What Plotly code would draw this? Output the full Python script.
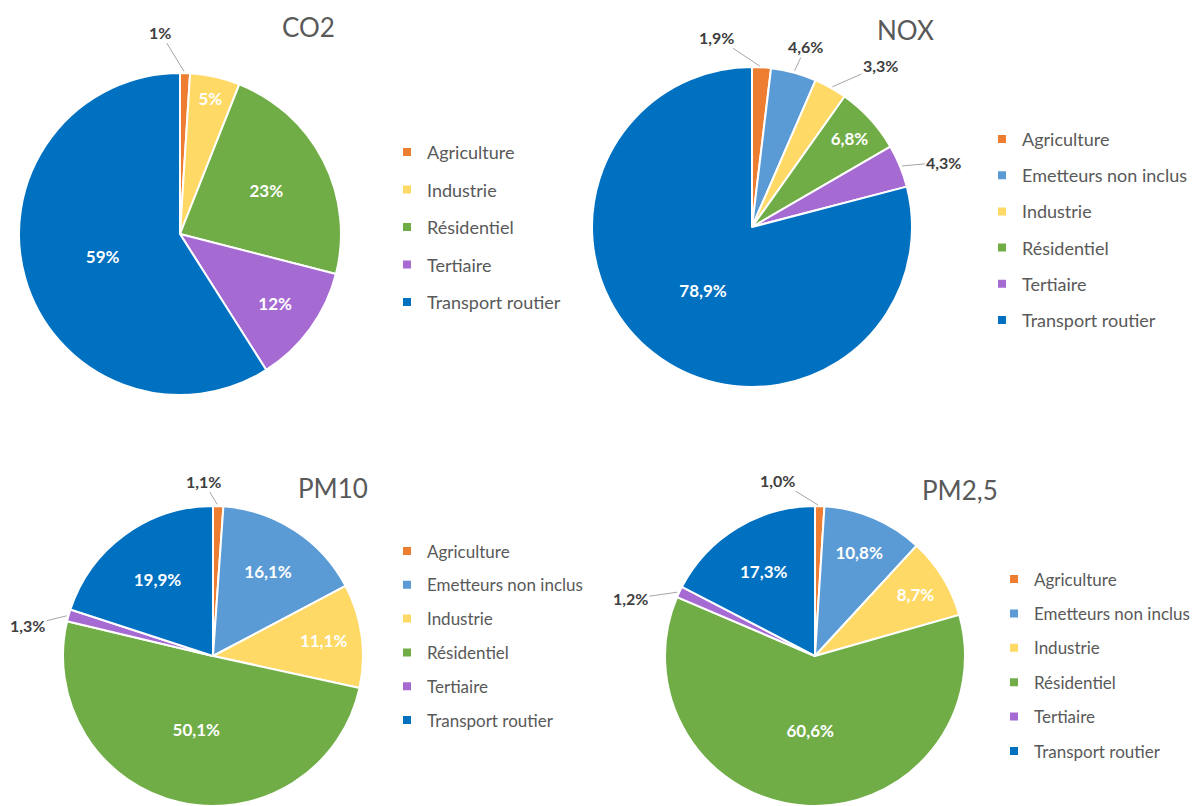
import math
import plotly.graph_objects as go

# The page body has an 8px margin: the figure is drawn from (8, 8) of the window.
OFF = 8
VW, VH = 1199, 806
W, H = VW - OFF, VH - OFF
FONT = "Lato"

# ---------------- data ----------------
cats_co2 = ["Agriculture", "Industrie", "Résidentiel", "Tertiaire", "Transport routier"]
vals_co2 = [1, 5, 23, 12, 59]

cats_six = ["Agriculture", "Emetteurs non inclus", "Industrie", "Résidentiel", "Tertiaire", "Transport routier"]
vals_nox = [1.9, 4.6, 3.3, 6.8, 4.3, 78.9]
vals_pm10 = [1.1, 16.1, 11.1, 50.1, 1.3, 19.9]
vals_pm25 = [1.0, 10.8, 8.7, 60.6, 1.2, 17.3]

titles = ["CO2", "NOX", "PM10", "PM2,5"]

colors = {
    "Agriculture": "#ED7D31",
    "Emetteurs non inclus": "#5B9BD5",
    "Industrie": "#FFD966",
    "Résidentiel": "#70AD47",
    "Tertiaire": "#A66BD3",
    "Transport routier": "#0070C0",
}

# ---------------- layout config (window pixel coordinates) ----------------
charts = [
    dict(title=titles[0], cats=cats_co2, vals=vals_co2, dec=0,
         box=(19, 73, 341, 395), title_xy=(308, 27),
         outside={"Agriculture": (-25, -41)},
         leg=dict(tx=427, row1=152, step=37.5, fs=18)),
    dict(title=titles[1], cats=cats_six, vals=vals_nox, dec=1,
         box=(592, 67, 912, 387), title_xy=(905, 30),
         outside={"Agriculture": (-45, -30), "Emetteurs non inclus": (12, -26),
                  "Industrie": (50, -22), "Tertiaire": (44, -4)},
         leg=dict(tx=1022, row1=139, step=36.2, fs=18)),
    dict(title=titles[2], cats=cats_six, vals=vals_pm10, dec=1,
         box=(63, 506, 363, 806), title_xy=(333, 488),
         outside={"Agriculture": (-15, -25), "Tertiaire": (-41, 10)},
         leg=dict(tx=427, row1=551, step=33.8, fs=17)),
    dict(title=titles[3], cats=cats_six, vals=vals_pm25, dec=1,
         box=(665, 506, 965, 806), title_xy=(960, 490),
         outside={"Agriculture": (-42, -26), "Tertiaire": (-49, 7)},
         leg=dict(tx=1034, row1=579, step=34.4, fs=17)),
]


def fmt(v, dec):
    return (f"{v:.{dec}f}").replace(".", ",") + "%"


def px_x(x):
    return (x - OFF) / W


def px_y(y):
    return 1 - (y - OFF) / H


fig = go.Figure()
annotations = []
legend_ids = ["legend", "legend2", "legend3", "legend4"]
legend_layouts = {}

for k, ch in enumerate(charts):
    x0, y0, x1, y1 = ch["box"]
    cats, vals, dec = ch["cats"], ch["vals"], ch["dec"]
    texts = ["" if c in ch["outside"] else fmt(v, dec) for c, v in zip(cats, vals)]
    fig.add_trace(go.Pie(
        labels=cats, values=vals, sort=False, direction="clockwise", rotation=0,
        domain=dict(x=[px_x(x0), px_x(x1)], y=[px_y(y1), px_y(y0)]),
        marker=dict(colors=[colors[c] for c in cats], line=dict(color="white", width=2)),
        text=texts, textinfo="text", textposition="inside",
        insidetextorientation="horizontal",
        insidetextfont=dict(family=FONT, size=17, color="white", weight="bold"),
        showlegend=False, hoverinfo="label+percent",
    ))

    # outside labels with leader lines, anchored on slice edges computed from the data
    cx, cy = (x0 + x1) / 2, (y0 + y1) / 2
    r = min(x1 - x0, y1 - y0) / 2
    total = sum(vals)
    cum = 0.0
    for c, v in zip(cats, vals):
        if c in ch["outside"]:
            th = 2 * math.pi * (cum + v / 2) / total
            ex = cx + r * math.sin(th)
            ey = cy - r * math.cos(th)
            ax, ay = ch["outside"][c]
            annotations.append(dict(
                x=px_x(ex), y=px_y(ey), xref="paper", yref="paper",
                text=fmt(v, dec), showarrow=True, arrowhead=0, arrowwidth=1,
                arrowcolor="#A6A6A6", ax=ax, ay=ay, standoff=2,
                font=dict(family=FONT, size=16, color="#404040", weight="bold"),
            ))
        cum += v

    # title
    tx, ty = ch["title_xy"]
    annotations.append(dict(
        x=px_x(tx), y=px_y(ty), xref="paper", yref="paper", showarrow=False,
        text=ch["title"], xanchor="center", yanchor="middle",
        font=dict(family=FONT, size=26, color="#595959"),
    ))

    # legend entries
    lid = legend_ids[k]
    lg = ch["leg"]
    h_item = 1.3 * lg["fs"] + 3
    for i, c in enumerate(cats):
        fig.add_trace(go.Scatter(
            x=[None], y=[None], mode="markers", name=c,
            marker=dict(symbol="square", size=8, color=colors[c]),
            legend=lid, legendgroup=f"{lid}_{i}", showlegend=True, hoverinfo="skip",
        ))
    legend_layouts[lid] = dict(
        x=px_x(lg["tx"] - 40), xanchor="left",
        y=px_y(lg["row1"] - h_item / 2 - 5), yanchor="top",
        bgcolor="rgba(0,0,0,0)", borderwidth=0,
        font=dict(family=FONT, size=lg["fs"], color="#595959"),
        tracegroupgap=lg["step"] - h_item, itemclick=False, itemdoubleclick=False,
    )

fig.update_layout(
    width=W, height=H, margin=dict(l=0, r=0, t=0, b=0),
    paper_bgcolor="white", plot_bgcolor="white",
    xaxis=dict(visible=False, domain=[0, 0.01]), yaxis=dict(visible=False, domain=[0, 0.01]),
    annotations=annotations,
    font=dict(family=FONT),
    **legend_layouts,
)

fig.write_html("out.html")
